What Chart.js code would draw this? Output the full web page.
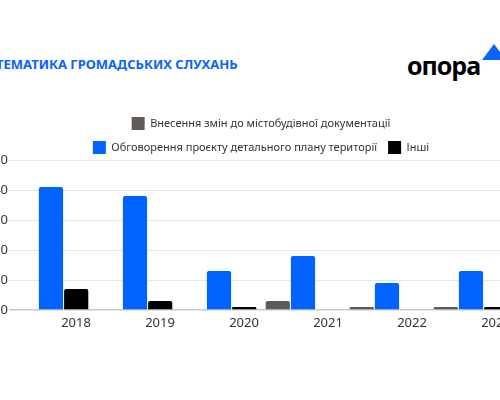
<!DOCTYPE html>
<html>
<head>
<meta charset="utf-8">
<script src="https://cdn.jsdelivr.net/npm/chart.js@4/dist/chart.umd.min.js"></script>
<style>
  html, body { margin: 0; padding: 0; background: #fff; width: 500px; height: 400px; overflow: hidden; position: relative; }
  .title { position: absolute; left: -4px; top: 55px; font: 700 13px "Noto Sans", sans-serif; color: #0a62ff; white-space: nowrap; }
  .logo { position: absolute; left: 407px; top: 48px; font: 700 25px "Noto Sans", sans-serif; color: #000; letter-spacing: -1px; }
  .logo-tri { position: absolute; left: 482px; top: 44px; width: 0; height: 0; border-left: 12px solid transparent; border-right: 12px solid transparent; border-bottom: 16px solid #0a62ff; }
  #chart { position: absolute; left: -31px; top: 106px; }
</style>
</head>
<body>
<div class="title">ТЕМАТИКА ГРОМАДСЬКИХ СЛУХАНЬ</div>
<div class="logo">опора</div>
<div class="logo-tri"></div>
<canvas id="chart" width="554" height="229"></canvas>
<script>
// years on the x axis
const years = ['2018', '2019', '2020', '2021', '2022', '2023'];

// series
const planAmendments = [0, 0, 0, 3, 1, 1];      // Внесення змін до містобудівної документації
const detailedPlans = [41, 38, 13, 18, 9, 13];   // Обговорення проєкту детального плану території
const otherHearings = [7, 3, 1, 0, 0, 1];        // Інші

const yMax = 50;
const yStep = 10;

const ctx = document.getElementById('chart');

new Chart(ctx, {
  type: 'bar',
  data: {
    labels: years,
    datasets: [
      {
        label: 'Внесення змін до містобудівної документації',
        data: planAmendments,
        backgroundColor: '#5f5a55',
        borderRadius: 2,
        borderWidth: 0
      },
      {
        label: 'Обговорення проєкту детального плану території',
        data: detailedPlans,
        backgroundColor: '#0062ff',
        borderRadius: 2,
        borderWidth: 0
      },
      {
        label: 'Інші',
        data: otherHearings,
        backgroundColor: '#000000',
        borderRadius: 2,
        borderWidth: 0
      }
    ]
  },
  options: {
    responsive: false,
    animation: false,
    layout: { padding: { right: 10 } },
    datasets: {
      bar: { categoryPercentage: 0.9, barPercentage: 0.96 }
    },
    plugins: {
      tooltip: { enabled: false },
      legend: {
        position: 'top',
        fullSize: false,
        maxHeight: 54,
        labels: {
          boxWidth: 13,
          boxHeight: 13,
          padding: 11,
          color: '#333',
          font: { family: 'Noto Sans', size: 11 }
        }
      }
    },
    scales: {
      x: {
        grid: { display: false, drawTicks: false },
        border: { display: false },
        ticks: {
          color: '#333',
          padding: 5,
          labelOffset: 25,
          maxRotation: 0,
          font: { family: 'Noto Sans', size: 13 }
        },
        afterFit: (scale) => { scale.height = 25; }
      },
      y: {
        min: 0,
        max: yMax,
        grid: {
          drawTicks: false,
          color: (c) => c.tick && c.tick.value === 0 ? '#c9c9c9' : '#e6e6e6',
          lineWidth: (c) => c.tick && c.tick.value === 0 ? 1.5 : 1
        },
        border: { display: false },
        ticks: {
          stepSize: yStep,
          color: '#333',
          padding: 1,
          font: { family: 'Noto Sans', size: 13 }
        },
        afterFit: (scale) => { scale.width = 40; }
      }
    }
  }
});
</script>
</body>
</html>
